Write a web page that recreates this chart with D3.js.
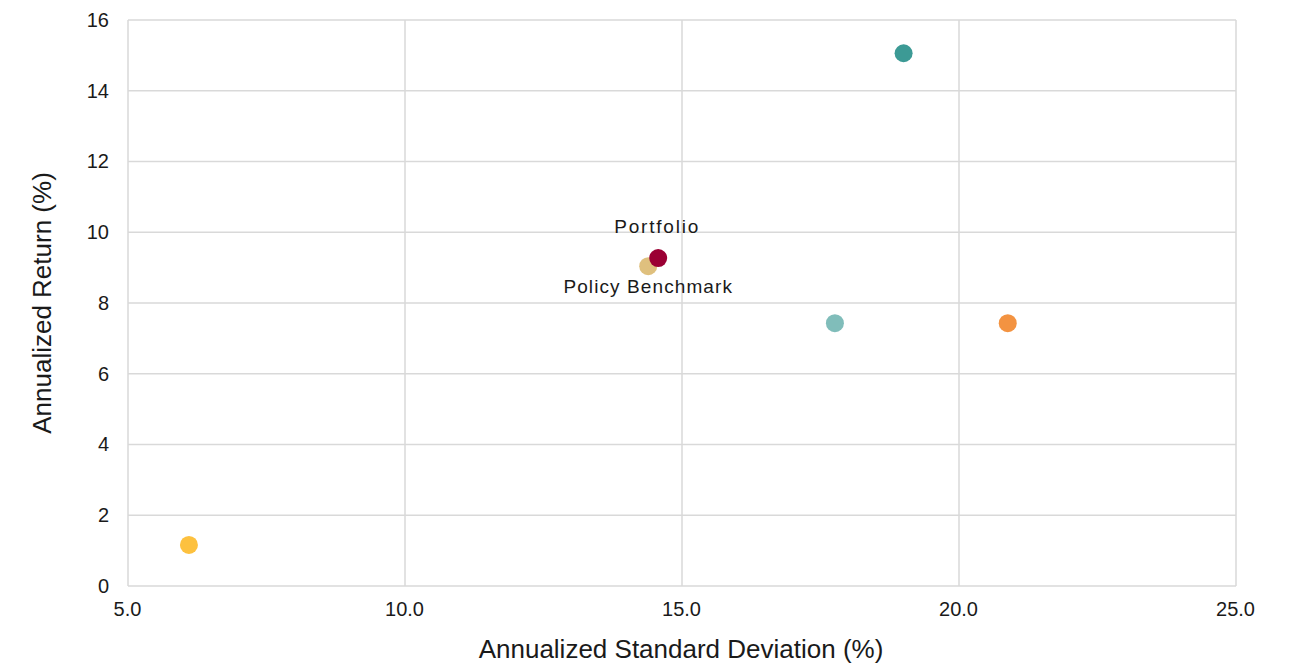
<!DOCTYPE html>
<html><head><meta charset="utf-8">
<script src="https://cdn.jsdelivr.net/npm/d3@7"></script>
<style>body{margin:0;background:#fff;}text{font-family:"Liberation Sans",Arial,sans-serif;fill:#1a1a1a;}</style>
</head><body><svg id="c" width="1295" height="665"></svg>
<script>
const names = ["Asset A","Asset B","Asset C","Asset D","Policy Benchmark","Portfolio"];
const stdDev = [19.0, 17.76, 20.88, 6.10, 14.39, 14.57];
const returns = [15.06, 7.43, 7.43, 1.16, 9.04, 9.27];
const colors = ["#3c9a95","#80bdba","#f39341","#fdc13f","#dfc07e","#9b0034"];
const xTicks = [5,10,15,20,25];
const yTicks = [0,2,4,6,8,10,12,14,16];

const svg = d3.select("#c");
const L=128,R=1236,T=20,B=586;
const x = d3.scaleLinear().domain([5,25]).range([L,R]);
const y = d3.scaleLinear().domain([0,16]).range([B,T]);

svg.append("g").selectAll("line").data(yTicks).join("line")
  .attr("x1",L).attr("x2",R).attr("y1",d=>y(d)).attr("y2",d=>y(d))
  .attr("stroke","#d9d9d9").attr("stroke-width",1.5);
svg.append("g").selectAll("line").data(xTicks).join("line")
  .attr("y1",T).attr("y2",B).attr("x1",d=>x(d)).attr("x2",d=>x(d))
  .attr("stroke","#d9d9d9").attr("stroke-width",1.5);

const xa = svg.append("g").attr("transform",`translate(0,${B})`)
  .call(d3.axisBottom(x).tickValues(xTicks).tickFormat(d3.format(".1f")).tickSize(0).tickPadding(16));
const ya = svg.append("g").attr("transform",`translate(${L},0)`)
  .call(d3.axisLeft(y).tickValues(yTicks).tickFormat(d3.format("d")).tickSize(0).tickPadding(19));
[xa,ya].forEach(a=>{a.select(".domain").remove();a.attr("font-size",null).attr("font-family",null);
  a.selectAll("text").style("font-size","20px").attr("fill","#1a1a1a");});
xa.selectAll("text").attr("dx",-1);

svg.append("text").attr("x",681).attr("y",658).attr("text-anchor","middle").style("font-size","26px").text("Annualized Standard Deviation (%)");
svg.append("text").attr("transform","translate(51,303) rotate(-90)").attr("text-anchor","middle").style("font-size","26px").text("Annualized Return (%)");

svg.append("g").selectAll("circle").data(names).join("circle")
  .attr("cx",(d,i)=>x(stdDev[i])).attr("cy",(d,i)=>y(returns[i])).attr("r",9)
  .attr("fill",(d,i)=>colors[i]);

svg.append("text").attr("x",x(14.57)-1).attr("y",y(9.27)-25).attr("text-anchor","middle").style("font-size","19px").style("letter-spacing","1.8px").text("Portfolio");
svg.append("text").attr("x",x(14.39)).attr("y",y(9.04)+27).attr("text-anchor","middle").style("font-size","19px").style("letter-spacing","1.1px").text("Policy Benchmark");
</script></body></html>
